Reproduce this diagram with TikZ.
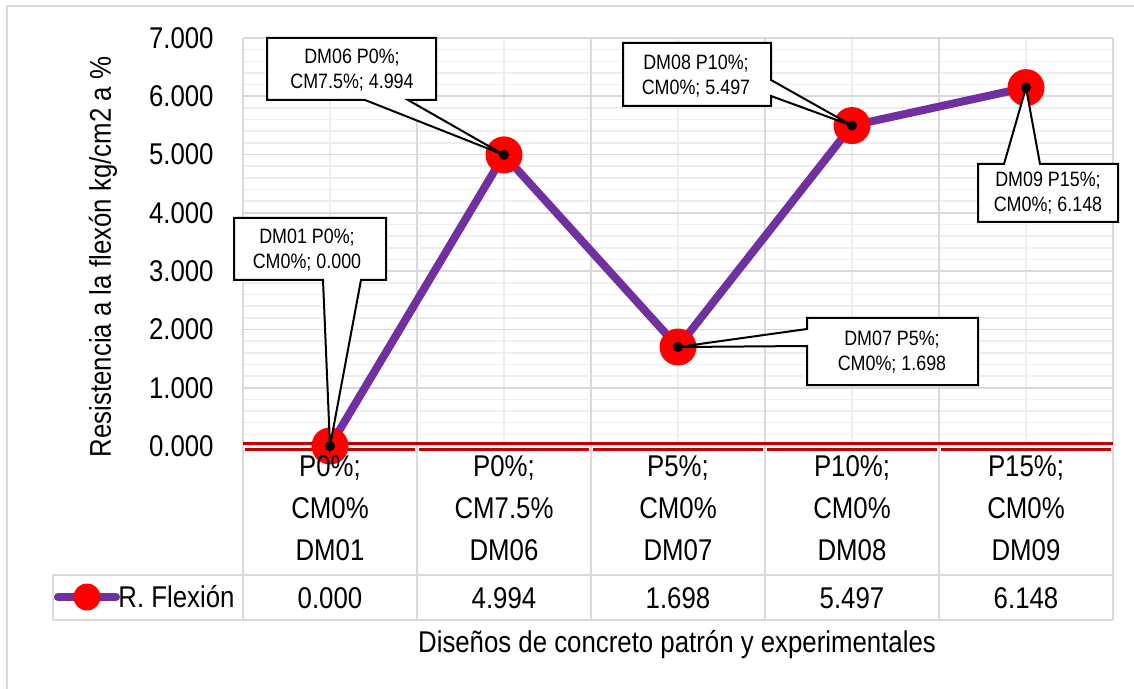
\documentclass[tikz,border=0pt]{standalone}
\usepackage{fontspec}
\setmainfont[FakeStretch=0.86]{Liberation Sans}
\usepackage{tikz}
\usetikzlibrary{calc}
\definecolor{flexpurple}{RGB}{112, 48, 160}
\definecolor{axisred}{RGB}{192, 0, 0}
\definecolor{markred}{RGB}{255, 0, 0}
\definecolor{gridmajor}{RGB}{217, 217, 217}
\definecolor{gridminor}{RGB}{238, 238, 238}

\begin{document}
\begin{tikzpicture}[x=0.5pt, y=-0.5pt,
  lbl/.style={font=\fontsize{15}{21}\selectfont, align=center, inner sep=0pt},
  tick/.style={font=\fontsize{15}{21}\selectfont, anchor=east, inner sep=0pt},
  note/.style={font=\fontsize{10.4}{12.5}\selectfont, align=center, inner sep=0pt},
  callout/.style={draw=black, fill=white, line width=1pt},
  marker/.style={circle, fill=markred, inner sep=0pt, minimum size=18.5pt},
  series/.style={draw=flexpurple, line width=4pt, line join=round}]
  \useasboundingbox (0,0) rectangle (1134,689);

  % Chart frame
  \draw[gridmajor, line width=1pt] (7,689) -- (7,6) -- (1134,6);

  % Grid
  \foreach \k in {0,...,35}
    \draw[gridminor, line width=0.8pt] (243,{446-11.657*\k}) -- (1113,{446-11.657*\k});
  \foreach \x in {330,504,678,852,1026}
    \draw[gridminor, line width=0.8pt] (\x,38) -- (\x,446);
  \foreach \k in {1,...,7}
    \draw[gridmajor, line width=0.9pt] (243,{446-58.29*\k}) -- (1113,{446-58.29*\k});
  \foreach \x in {243,417,591,765,939,1113}
    \draw[gridmajor, line width=0.9pt] (\x,38) -- (\x,620);

  % Data table
  \draw[gridmajor, line width=1pt] (53,575) -- (1113,575);
  \draw[gridmajor, line width=1pt] (53,620) -- (1113,620);
  \draw[gridmajor, line width=1pt] (53,575) -- (53,620);

  % Axis line
  \draw[axisred, line width=1.5pt] (243,443.3) -- (1113,443.3);
  \foreach \x in {243,417,591,765,939}
    \draw[axisred, line width=1.5pt] ({\x+2},449) -- ({\x+172},449);

  % Value axis
  \foreach \k in {0,...,7}
    \node[tick] (t\k) at (214,{446-58.29*\k}) {\k.000};
  \node[lbl, rotate=90] (ytitle) at (103,257) {Resistencia a la flexón kg/cm2 a \%};

  % Series
  \coordinate (p01) at (330,446);
  \coordinate (p06) at (504,{446-58.29*4.994});
  \coordinate (p07) at (678,{446-58.29*1.698});
  \coordinate (p08) at (852,{446-58.29*5.497});
  \coordinate (p09) at (1026,{446-58.29*6.148});
  \draw[series] (p01) -- (p06) -- (p07) -- (p08) -- (p09);
  \node[marker] (m01) at (p01) {};
  \node[marker] (m06) at (p06) {};
  \node[marker] (m07) at (p07) {};
  \node[marker] (m08) at (p08) {};
  \node[marker] (m09) at (p09) {};

  % Categories and values
  \foreach \x/\cat/\dm/\val in {330/{P0\%;\\CM0\%}/DM01/0.000,
      504/{P0\%;\\CM7.5\%}/DM06/4.994, 678/{P5\%;\\CM0\%}/DM07/1.698,
      852/{P10\%;\\CM0\%}/DM08/5.497, 1026/{P15\%;\\CM0\%}/DM09/6.148} {
    \node[lbl] (cat\dm) at (\x,487) {\cat};
    \node[lbl] (name\dm) at (\x,550) {\dm};
    \node[lbl] (val\dm) at (\x,598) {\val};
  }

  % Legend
  \coordinate (lgl) at (58,597);
  \coordinate (lgr) at (116,597);
  \draw[series, line cap=round] (lgl) -- (lgr);
  \node[marker, minimum size=13.5pt] (lgm) at (87,597) {};
  \node[lbl, anchor=west] (lgt) at (118,597) {R. Flexión};

  \node[lbl] (xtitle) at (677,645) {Diseños de concreto patrón y experimentales};

  % Data callouts
  \draw[callout] (234,218) -- (386,218) -- (386,280) -- (361,280) -- (m01.center) -- (323,280) -- (234,280) -- cycle;
  \node[note] (c01) at (307,250) {DM01 P0\%;\\CM0\%; 0.000};
  \draw[callout] (267,38) -- (436,38) -- (436,100) -- (408,100) -- (m06.center) -- (365,100) -- (267,100) -- cycle;
  \node[note] (c06) at (352,70) {DM06 P0\%;\\CM7.5\%; 4.994};
  \draw[callout] (807,318) -- (978,318) -- (978,385) -- (807,385) -- (807,346) -- (m07.center) -- (807,329) -- cycle;
  \node[note] (c07) at (892,352) {DM07 P5\%;\\CM0\%; 1.698};
  \draw[callout] (623,43) -- (771,43) -- (771,80) -- (m08.center) -- (771,96) -- (771,106) -- (623,106) -- cycle;
  \node[note] (c08) at (696,76) {DM08 P10\%;\\CM0\%; 5.497};
  \draw[callout] (978,164) -- (1004,164) -- (m09.center) -- (1040,164) -- (1118,164) -- (1118,222) -- (978,222) -- cycle;
  \node[note] (c09) at (1048,193) {DM09 P15\%;\\CM0\%; 6.148};
  \foreach \m in {m01,m06,m07,m08,m09}
    \fill[black] (\m) circle (2.5pt);
\end{tikzpicture}
\end{document}
